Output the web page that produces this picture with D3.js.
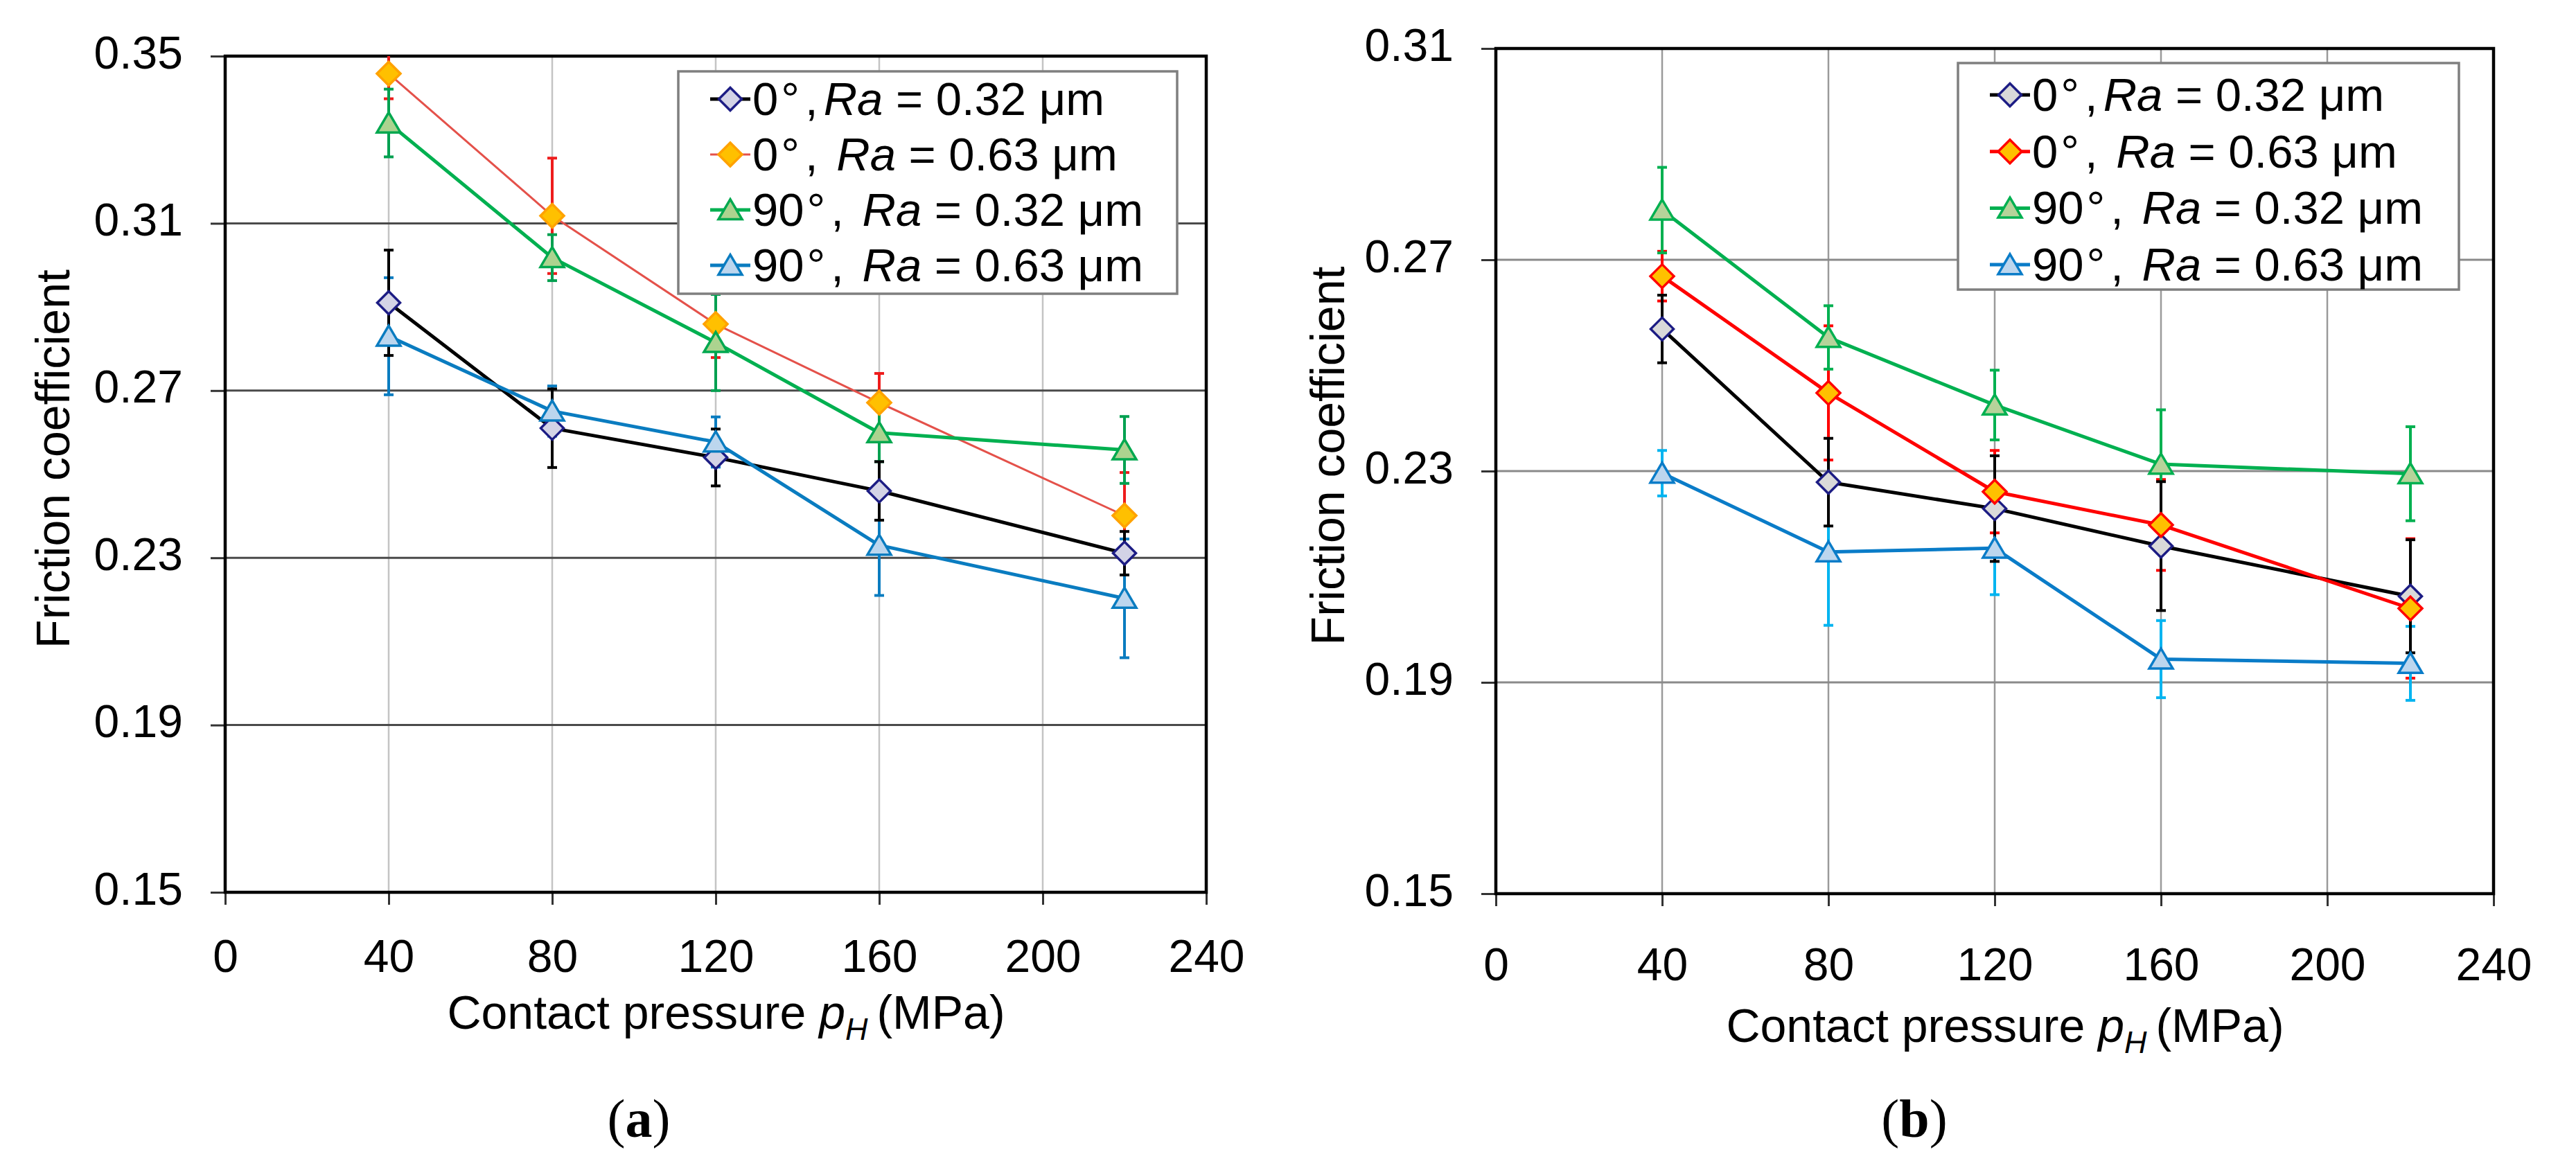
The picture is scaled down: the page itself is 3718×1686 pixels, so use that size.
<!DOCTYPE html>
<html>
<head>
<meta charset="utf-8">
<script src="https://cdn.jsdelivr.net/npm/d3@7"></script>
<style>
  body { margin: 0; background: #fff; }
  text { font-family: "Liberation Sans", Arial, sans-serif; fill: #000; }
</style>
</head>
<body>
<svg id="fig"></svg>
<script>
// ---- data ----
const pressure = [40, 80, 120, 160, 220];
const xTicks = [0, 40, 80, 120, 160, 200, 240];
const yTicksA = [0.15, 0.19, 0.23, 0.27, 0.31, 0.35];
const yTicksB = [0.15, 0.19, 0.23, 0.27, 0.31];
// angle, degree sign, separator, italic symbol, rest
const legendLabels = [
  ["0", "°", ",", "Ra", " = 0.32 μm"],
  ["0", "°", ", ", "Ra", " = 0.63 μm"],
  ["90", "°", ", ", "Ra", " = 0.32 μm"],
  ["90", "°", ", ", "Ra", " = 0.63 μm"]
];

// panel (a)
const a_deg0_r032 = [0.2910, 0.2610, 0.2540, 0.2460, 0.2311];
const a_deg0_r063 = [0.3458, 0.3118, 0.2859, 0.2671, 0.2401];
const a_deg90_r032 = [0.3340, 0.3018, 0.2815, 0.2599, 0.2558];
const a_deg90_r063 = [0.2830, 0.2651, 0.2577, 0.2330, 0.2203];
const a_err_deg0_r032 = [0.0126, 0.0094, 0.0068, 0.0070, 0.0052];
const a_err_deg0_r063 = [0.0060, 0.0138, 0.0080, 0.0070, 0.0103];
const a_err_deg90_r032 = [0.0081, 0.0055, 0.0115, 0.0069, 0.0080];
const a_err_deg90_r063 = [0.0140, 0.0060, 0.0060, 0.0120, 0.0142];

// panel (b)
const b_deg0_r032 = [0.2569, 0.2279, 0.2229, 0.2158, 0.2063];
const b_deg0_r063 = [0.2669, 0.2448, 0.2261, 0.2198, 0.2040];
const b_deg90_r032 = [0.2794, 0.2553, 0.2425, 0.2313, 0.2295];
const b_deg90_r063 = [0.2296, 0.2147, 0.2154, 0.1944, 0.1936];
const b_err_deg0_r032 = [0.0064, 0.0083, 0.0100, 0.0122, 0.0107];
const b_err_deg0_r063 = [0.0047, 0.0127, 0.0078, 0.0086, 0.0132];
const b_err_deg90_r032 = [0.0081, 0.0060, 0.0066, 0.0103, 0.0089];
const b_err_deg90_r063 = [0.0043, 0.0139, 0.0088, 0.0073, 0.0070];

let svgWidth = 3718;
let svgHeight = 1686;

let svg = d3.select("#fig")
  .attr("width", svgWidth)
  .attr("height", svgHeight);

// marker shapes as custom d3 symbol types
const diamond = {
  draw(ctx, size) {
    let r = Math.sqrt(size) / 2;
    ctx.moveTo(0, -r); ctx.lineTo(r, 0); ctx.lineTo(0, r); ctx.lineTo(-r, 0); ctx.closePath();
  }
};
const triangle = {
  draw(ctx, size) {
    let r = Math.sqrt(size) / 2;
    ctx.moveTo(0, -r * 0.9); ctx.lineTo(r, r * 0.8); ctx.lineTo(-r, r * 0.8); ctx.closePath();
  }
};

let styleA = [
  { line: "#000000", lw: 5, fill: "#d3d3e6", stroke: "#1c1c84", err: "#000000", shape: diamond, size: 33 * 33 },
  { line: "#e4514a", lw: 3, fill: "#ffc000", stroke: "#ffa200", err: "#ee1c1c", shape: diamond, size: 34 * 34 },
  { line: "#00b050", lw: 5, fill: "#acd38f", stroke: "#00a84f", err: "#00a050", shape: triangle, size: 34 * 34 },
  { line: "#0a7cc0", lw: 5, fill: "#bcd6ee", stroke: "#0a7cc0", err: "#0a7cc0", shape: triangle, size: 34 * 34 }
];
let styleB = [
  { line: "#000000", lw: 5, fill: "#d9d9d9", stroke: "#1c1c84", err: "#000000", shape: diamond, size: 33 * 33 },
  { line: "#ff0000", lw: 5, fill: "#ffc000", stroke: "#ff0000", err: "#ff0000", shape: diamond, size: 34 * 34 },
  { line: "#00b050", lw: 5, fill: "#b6d39a", stroke: "#00b050", err: "#00b050", shape: triangle, size: 34 * 34 },
  { line: "#0a7cc8", lw: 5, fill: "#bcd6ee", stroke: "#0a7cc8", err: "#00b4f0", shape: triangle, size: 34 * 34 }
];

function drawPanel(cfg) {
  let g = svg.append("g");

  let x = d3.scaleLinear().domain([0, 240]).range([cfg.left, cfg.right]);
  let y = d3.scaleLinear().domain(cfg.yDomain).range([cfg.bottom, cfg.top]);

  let clipId = "clip" + cfg.id;
  g.append("clipPath").attr("id", clipId)
    .append("rect")
    .attr("x", cfg.left).attr("y", cfg.top)
    .attr("width", cfg.right - cfg.left).attr("height", cfg.bottom - cfg.top);

  // grid
  g.append("g").selectAll("line")
    .data(xTicks.slice(1, -1))
    .enter().append("line")
    .attr("x1", d => x(d)).attr("x2", d => x(d))
    .attr("y1", cfg.top).attr("y2", cfg.bottom)
    .attr("stroke", cfg.vGrid).attr("stroke-width", 2.5);

  g.append("g").selectAll("line")
    .data(cfg.yTicks.slice(1, -1))
    .enter().append("line")
    .attr("x1", cfg.left).attr("x2", cfg.right)
    .attr("y1", d => y(d)).attr("y2", d => y(d))
    .attr("stroke", cfg.hGrid).attr("stroke-width", 3);

  // axes
  let leftAxis = d3.axisLeft(y)
    .tickValues(cfg.yTicks)
    .tickFormat(d3.format(".2f"))
    .tickSizeInner(21).tickSizeOuter(0).tickPadding(40);
  let bottomAxis = d3.axisBottom(x)
    .tickValues(xTicks)
    .tickFormat(d3.format("d"))
    .tickSizeInner(18).tickSizeOuter(0).tickPadding(cfg.xPad);

  let ya = g.append("g").attr("transform", `translate(${cfg.left},0)`).call(leftAxis);
  let xa = g.append("g").attr("transform", `translate(0,${cfg.bottom})`).call(bottomAxis);
  [ya, xa].forEach(a => {
    a.select(".domain").remove();
    a.selectAll("line").attr("stroke", "#333").attr("stroke-width", 3);
    a.selectAll("text").attr("font-size", 66).attr("font-family", "Liberation Sans, Arial, sans-serif").attr("fill", "#000");
  });
  ya.selectAll("text").attr("dy", "0.26em");

  // plot border
  g.append("rect")
    .attr("x", cfg.left).attr("y", cfg.top)
    .attr("width", cfg.right - cfg.left).attr("height", cfg.bottom - cfg.top)
    .attr("fill", "none").attr("stroke", "#000").attr("stroke-width", 4.5);

  // error bars
  let errGroup = g.append("g").attr("clip-path", `url(#${clipId})`);
  [1, 2, 3, 0].forEach(i => {
    let st = cfg.style[i];
    let pts = pressure.map((p, j) => ({ p: p, v: cfg.values[i][j], e: cfg.errors[i][j] }));
    let eg = errGroup.append("g").attr("stroke", st.err).attr("stroke-width", 4);
    eg.selectAll(".bar").data(pts).enter().append("line")
      .attr("x1", d => x(d.p)).attr("x2", d => x(d.p))
      .attr("y1", d => y(d.v - d.e)).attr("y2", d => y(d.v + d.e));
    eg.selectAll(".capT").data(pts).enter().append("line")
      .attr("x1", d => x(d.p) - 7).attr("x2", d => x(d.p) + 7)
      .attr("y1", d => y(d.v + d.e)).attr("y2", d => y(d.v + d.e));
    eg.selectAll(".capB").data(pts).enter().append("line")
      .attr("x1", d => x(d.p) - 7).attr("x2", d => x(d.p) + 7)
      .attr("y1", d => y(d.v - d.e)).attr("y2", d => y(d.v - d.e));
  });

  // lines + markers
  let lineGen = d3.line().x(d => x(d.p)).y(d => y(d.v));
  cfg.values.forEach((vals, i) => {
    let st = cfg.style[i];
    let pts = pressure.map((p, j) => ({ p: p, v: vals[j] }));
    g.append("path")
      .datum(pts)
      .attr("d", lineGen)
      .attr("fill", "none")
      .attr("stroke", st.line)
      .attr("stroke-width", st.lw)
      .attr("stroke-linejoin", "round");
    g.append("g").selectAll("path")
      .data(pts)
      .enter().append("path")
      .attr("d", d3.symbol().type(st.shape).size(st.size))
      .attr("transform", d => `translate(${x(d.p)},${y(d.v)})`)
      .attr("fill", st.fill)
      .attr("stroke", st.stroke)
      .attr("stroke-width", 3.5);
  });

  // legend
  let lg = cfg.legend;
  g.append("rect")
    .attr("x", lg.x).attr("y", lg.y)
    .attr("width", lg.w).attr("height", lg.h)
    .attr("fill", "#fff").attr("stroke", "#7f7f7f").attr("stroke-width", 3.5);
  legendLabels.forEach((lab, i) => {
    let st = cfg.style[i];
    let base = lg.y + lg.first + i * lg.step;
    let my = base - 23;
    g.append("line")
      .attr("x1", lg.x + 46).attr("x2", lg.x + 104)
      .attr("y1", my).attr("y2", my)
      .attr("stroke", st.line).attr("stroke-width", st.lw);
    g.append("path")
      .attr("d", d3.symbol().type(st.shape).size(st.size))
      .attr("transform", `translate(${lg.x + 75},${my})`)
      .attr("fill", st.fill).attr("stroke", st.stroke).attr("stroke-width", 3.5);
    let t = g.append("text")
      .attr("x", lg.x + 107).attr("y", base)
      .attr("font-size", 67)
      .style("white-space", "pre");
    t.append("tspan").text(lab[0]);
    t.append("tspan").attr("dx", 4).text(lab[1]);
    t.append("tspan").attr("dx", 8).text(lab[2]);
    t.append("tspan").attr("dx", 8).attr("font-style", "italic").text(lab[3]);
    t.append("tspan").text(lab[4]);
  });

  // axis titles
  let xt = g.append("text")
    .attr("x", (cfg.left + cfg.right) / 2 + 15)
    .attr("y", cfg.bottom + cfg.xTitle)
    .attr("text-anchor", "middle")
    .attr("font-size", 68)
    .style("white-space", "pre");
  xt.append("tspan").text("Contact pressure ");
  xt.append("tspan").attr("font-style", "italic").text("p");
  xt.append("tspan").attr("font-style", "italic").attr("font-size", 45).attr("dy", 16).text("H");
  xt.append("tspan").attr("dy", -16).attr("dx", 13).text("(MPa)");

  g.append("text")
    .attr("transform", `translate(${cfg.left - cfg.yTitle},${(cfg.top + cfg.bottom) / 2 - 22}) rotate(-90)`)
    .attr("text-anchor", "middle")
    .attr("font-size", 68)
    .text("Friction coefficient");

  // panel label
  let pl = g.append("text")
    .attr("x", cfg.labelX).attr("y", 1641)
    .attr("text-anchor", "middle")
    .attr("font-size", 78)
    .style("font-family", "'Liberation Serif', 'Times New Roman', serif");
  pl.append("tspan").text("(");
  pl.append("tspan").attr("font-weight", "bold").text(cfg.label);
  pl.append("tspan").text(")");
}

drawPanel({
  id: "a", left: 325, right: 1741, top: 81, bottom: 1288,
  yDomain: [0.15, 0.35], yTicks: yTicksA,
  values: [a_deg0_r032, a_deg0_r063, a_deg90_r032, a_deg90_r063],
  errors: [a_err_deg0_r032, a_err_deg0_r063, a_err_deg90_r032, a_err_deg90_r063],
  style: styleA,
  vGrid: "#c4c4c4", hGrid: "#4a4a4a",
  xPad: 50, xTitle: 197, yTitle: 225,
  legend: { x: 979, y: 103, w: 720, h: 321, first: 63, step: 80 },
  label: "a", labelX: 922
});

drawPanel({
  id: "b", left: 2159, right: 3599, top: 70, bottom: 1290,
  yDomain: [0.15, 0.31], yTicks: yTicksB,
  values: [b_deg0_r032, b_deg0_r063, b_deg90_r032, b_deg90_r063],
  errors: [b_err_deg0_r032, b_err_deg0_r063, b_err_deg90_r032, b_err_deg90_r063],
  style: styleB,
  vGrid: "#9a9a9a", hGrid: "#8a8a8a",
  xPad: 60, xTitle: 214, yTitle: 219,
  legend: { x: 2826, y: 91, w: 723, h: 327, first: 69, step: 81.7 },
  label: "b", labelX: 2763
});
</script>
</body>
</html>
